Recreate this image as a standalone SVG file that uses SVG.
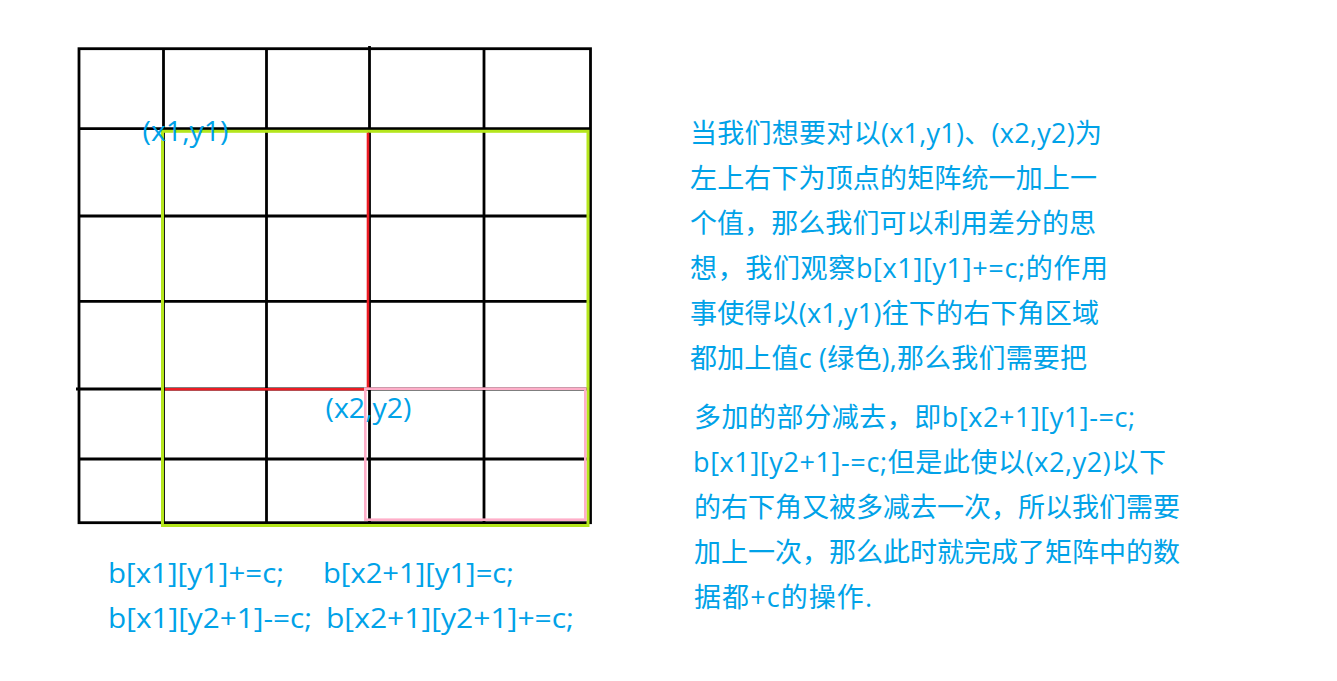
<svg xmlns="http://www.w3.org/2000/svg" width="1337" height="681" viewBox="0 0 1337 681">
<style>
.g{stroke:#000;stroke-width:2.8;fill:none}
.t{font-family:"Open Sans","Noto Sans CJK SC",sans-serif;font-size:27px;fill:#00a2e8}
</style>
<rect width="1337" height="681" fill="#fff"/>
<g id="grid">
<rect class="g" x="79" y="48.7" width="511.5" height="474"/>
<line class="g" x1="79" y1="128.7" x2="590.5" y2="128.7"/>
<line class="g" x1="79" y1="216" x2="590.5" y2="216"/>
<line class="g" x1="79" y1="301.3" x2="590.5" y2="301.3"/>
<line class="g" x1="76" y1="389" x2="590.5" y2="389"/>
<line class="g" x1="79" y1="459" x2="590.5" y2="459"/>
<line class="g" x1="163.5" y1="48.7" x2="163.5" y2="522.7"/>
<line class="g" x1="266.5" y1="48.7" x2="266.5" y2="522.7"/>
<line class="g" x1="369.5" y1="46" x2="369.5" y2="522.7"/>
<line class="g" x1="484" y1="48.7" x2="484" y2="522.7"/>
</g>
<g id="highlights">
<rect id="green-region" x="162.5" y="131.3" width="425.5" height="394.2" fill="none" stroke="#b5e61d" stroke-width="3"/>
<line x1="368" y1="132.7" x2="368" y2="389" stroke="#ed1c24" stroke-width="2.6"/>
<line x1="165" y1="389.3" x2="367" y2="389.3" stroke="#ed1c24" stroke-width="2.6"/>
<rect id="pink-region" x="365.3" y="388.7" width="220" height="131" fill="none" stroke="#ffaec9" stroke-width="2.6"/>
</g>
<g id="labels">
<text class="t" x="142.5" y="140.5" textLength="86" lengthAdjust="spacingAndGlyphs">(x1,y1)</text>
<text class="t" x="325.5" y="418" textLength="86" lengthAdjust="spacingAndGlyphs">(x2,y2)</text>
</g>
<g id="formulas">
<text class="t" x="108" y="583" textLength="176" lengthAdjust="spacingAndGlyphs">b[x1][y1]+=c;</text>
<text class="t" x="323" y="583" textLength="191" lengthAdjust="spacingAndGlyphs">b[x2+1][y1]=c;</text>
<text class="t" x="108" y="628" textLength="204" lengthAdjust="spacingAndGlyphs">b[x1][y2+1]-=c;</text>
<text class="t" x="326" y="628" textLength="248" lengthAdjust="spacingAndGlyphs">b[x2+1][y2+1]+=c;</text>
</g>
<g id="explanation">
<text class="t" x="690" y="143" textLength="412">当我们想要对以(x1,y1)、(x2,y2)为</text>
<text class="t" x="690" y="188" textLength="407">左上右下为顶点的矩阵统一加上一</text>
<text class="t" x="690" y="233" textLength="406">个值，那么我们可以利用差分的思</text>
<text class="t" x="690" y="278" textLength="418">想，我们观察b[x1][y1]+=c;的作用</text>
<text class="t" x="690" y="323" textLength="409">事使得以(x1,y1)往下的右下角区域</text>
<text class="t" x="690" y="368" textLength="397">都加上值c (绿色),那么我们需要把</text>
<text class="t" x="694" y="427" textLength="441">多加的部分减去，即b[x2+1][y1]-=c;</text>
<text class="t" x="693" y="472" textLength="473">b[x1][y2+1]-=c;但是此使以(x2,y2)以下</text>
<text class="t" x="694" y="517" textLength="486">的右下角又被多减去一次，所以我们需要</text>
<text class="t" x="694" y="562" textLength="486">加上一次，那么此时就完成了矩阵中的数</text>
<text class="t" x="694" y="607" textLength="178">据都+c的操作.</text>
</g>
</svg>
